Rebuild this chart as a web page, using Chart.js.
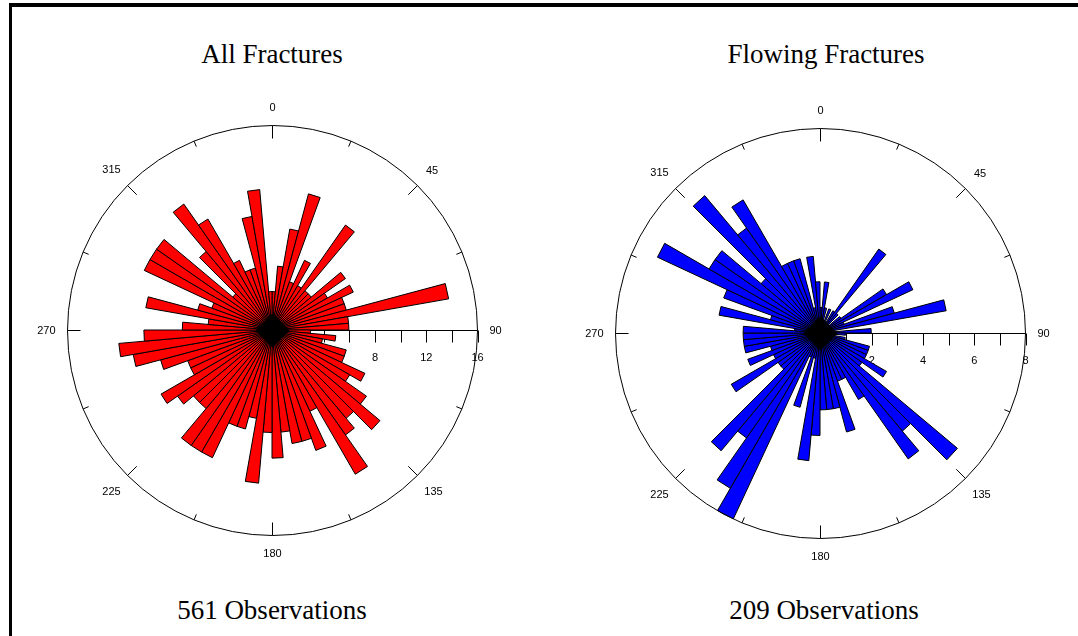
<!DOCTYPE html>
<html>
<head>
<meta charset="utf-8">
<title>Fracture Rose Diagrams</title>
<script src="https://cdn.jsdelivr.net/npm/chart.js@4.4.0/dist/chart.umd.min.js"></script>
<style>
    html, body { margin: 0; padding: 0; background: #fff; }
    body { width: 1078px; height: 636px; position: relative; overflow: hidden; }
    .frame {
        position: absolute; left: 9px; top: 3px; width: 1090px; height: 660px;
        border-top: 4px solid #000; border-left: 3px solid #000;
    }
    .caption {
        position: absolute; width: 400px; text-align: center;
        font-family: 'Liberation Serif', 'DejaVu Serif', serif;
        font-size: 27px; line-height: 27px; color: #000;
    }
    .rose { position: absolute; width: 500px; height: 460px; }
</style>
</head>
<body>
<div class="frame"></div>
<div class="caption" style="left:72px; top:41px;">All Fractures</div>
<div class="caption" style="left:626px; top:41px;">Flowing Fractures</div>
<canvas id="all-rose" class="rose" width="500" height="460" style="left:22px; top:100px;"></canvas>
<canvas id="flowing-rose" class="rose" width="500" height="460" style="left:570px; top:103px;"></canvas>
<div class="caption" style="left:72px; top:597px;">561 Observations</div>
<div class="caption" style="left:624px; top:597px;">209 Observations</div>

<script>
// 5 degree bins, clockwise from north
const binLabels = [
    '0', '5', '10', '15', '20', '25', '30', '35', '40', '45', '50', '55', '60', '65', '70', '75', '80', '85',
    '90', '95', '100', '105', '110', '115', '120', '125', '130', '135', '140', '145', '150', '155', '160', '165', '170', '175',
    '180', '185', '190', '195', '200', '205', '210', '215', '220', '225', '230', '235', '240', '245', '250', '255', '260', '265',
    '270', '275', '280', '285', '290', '295', '300', '305', '310', '315', '320', '325', '330', '335', '340', '345', '350', '355'
];

// Counts per bin, all fractures (561 obs)
const allCounts = [
    3, 5, 8, 11, 4, 6, 4, 10, 4, 4, 7, 5, 7, 6, 6, 14, 6, 6,
    3, 5, 4, 6, 6, 8, 7, 9, 11, 9, 10, 13, 7, 10, 9, 9, 8, 10,
    8, 12, 7, 8, 8, 11, 11, 11, 8, 8, 9, 10, 7, 7, 9, 11, 12, 10,
    7, 5, 10, 6, 5, 11, 11, 11, 4, 8, 12, 10, 6, 5, 5, 9, 11, 3
];

// Counts per bin, flowing fractures (209 obs)
const flowingCounts = [
    1, 2, 1, 0, 1, 0, 1, 4, 1, 0, 1, 3, 4, 1, 3, 5, 0, 2,
    1, 0, 1, 2, 2, 2, 3, 2, 7, 5, 6, 3, 2, 2, 4, 3, 3, 3,
    4, 5, 1, 3, 1, 8, 7, 5, 6, 2, 2, 4, 2, 3, 2, 3, 3, 3,
    3, 1, 4, 2, 4, 7, 5, 5, 3, 7, 5, 6, 3, 3, 3, 1, 3, 2
];

// Compass decoration
const compassTickDegrees = [0, 22.5, 45, 67.5, 90, 112.5, 135, 157.5, 180, 202.5, 225, 247.5, 270, 292.5, 315, 337.5];
const compassLabels = ['0', '45', '90', '135', '180', '225', '270', '315'];

// Radial axis (drawn along 90 degrees)
const allAxisTicks = [2, 4, 6, 8, 10, 12, 14, 16];
const allAxisLabels = [4, 8, 12, 16];
const flowingAxisTicks = [1, 2, 3, 4, 5, 6, 7, 8];
const flowingAxisLabels = [2, 4, 6, 8];

document.addEventListener('DOMContentLoaded', () => {

    const labelFont = '11px "Liberation Sans", Arial, sans-serif';

    /**
     * Draws the outer ring, compass ticks/labels and the radial scale
     * before the bars so the bars sit on top (as in the original).
     */
    const compassPlugin = {
        id: 'compass',
        beforeDatasetsDraw(chart, args, opts) {
            const scale = chart.scales.r;
            const ctx = chart.ctx;
            const cx = scale.xCenter + 0.5;
            const cy = scale.yCenter + 0.5;
            const outer = scale.getDistanceFromCenterForValue(scale.max);

            ctx.save();
            ctx.strokeStyle = '#000';
            ctx.fillStyle = '#000';
            ctx.lineWidth = 1;

            // outer ring
            ctx.beginPath();
            ctx.arc(cx, cy, outer, 0, Math.PI * 2);
            ctx.stroke();

            // compass ticks, longer on the 45s
            compassTickDegrees.forEach(deg => {
                const len = deg % 45 === 0 ? 13 : 6;
                const a = deg * Math.PI / 180;
                const sx = Math.sin(a);
                const sy = -Math.cos(a);
                ctx.beginPath();
                ctx.moveTo(cx + sx * outer, cy + sy * outer);
                ctx.lineTo(cx + sx * (outer - len), cy + sy * (outer - len));
                ctx.stroke();
            });

            // compass labels
            ctx.font = labelFont;
            ctx.textAlign = 'center';
            ctx.textBaseline = 'middle';
            compassLabels.forEach(text => {
                const a = parseFloat(text) * Math.PI / 180;
                const sx = Math.sin(a);
                const sy = -Math.cos(a);
                const w = ctx.measureText(text).width;
                const d = outer + 12 + Math.abs(sx) * w / 2 + Math.abs(sy) * 6;
                ctx.fillText(text, cx + sx * d, cy + sy * d);
            });

            // radial scale along 90 degrees
            ctx.beginPath();
            ctx.moveTo(cx, cy);
            ctx.lineTo(cx + outer, cy);
            ctx.stroke();

            opts.ticks.forEach(v => {
                const x = Math.round(cx + scale.getDistanceFromCenterForValue(v)) + 0.5;
                ctx.beginPath();
                ctx.moveTo(x, cy);
                ctx.lineTo(x, cy + 12);
                ctx.stroke();
            });

            opts.labels.forEach(v => {
                const x = cx + scale.getDistanceFromCenterForValue(v);
                ctx.fillText(String(v), x, cy + 27);
            });

            ctx.restore();
        },

        // the original's outlines merge into a solid black diamond at the hub
        afterDatasetsDraw(chart, args, opts) {
            const scale = chart.scales.r;
            const ctx = chart.ctx;
            const cx = scale.xCenter + 0.5;
            const cy = scale.yCenter + 0.5;
            const h = opts.hub;

            ctx.save();
            ctx.fillStyle = '#000';
            ctx.beginPath();
            ctx.moveTo(cx, cy - h);
            ctx.lineTo(cx + h, cy);
            ctx.lineTo(cx, cy + h);
            ctx.lineTo(cx - h, cy);
            ctx.closePath();
            ctx.fill();
            ctx.restore();
        }
    };

    /**
     * Renders one rose diagram as a polar area chart.
     */
    function renderRose(canvasId, counts, color, maxValue, axisTicks, axisLabels) {
        const ctx = document.getElementById(canvasId);
        if (!ctx) return null;

        return new Chart(ctx, {
            type: 'polarArea',
            data: {
                labels: binLabels,
                datasets: [{
                    data: counts,
                    backgroundColor: color,
                    borderColor: '#000',
                    borderWidth: 1,
                    circular: false
                }]
            },
            options: {
                responsive: false,
                animation: false,
                events: [],
                layout: { padding: { left: 45, right: 45, top: 25, bottom: 25 } },
                scales: {
                    r: {
                        min: 0,
                        max: maxValue,
                        startAngle: 0,
                        ticks: { display: false },
                        grid: { display: false },
                        angleLines: { display: false },
                        pointLabels: { display: false }
                    }
                },
                plugins: {
                    legend: { display: false },
                    tooltip: { enabled: false },
                    compass: { ticks: axisTicks, labels: axisLabels, hub: 17 }
                }
            },
            plugins: [compassPlugin]
        });
    }

    renderRose('all-rose', allCounts, '#ff0000', 16, allAxisTicks, allAxisLabels);
    renderRose('flowing-rose', flowingCounts, '#0000ff', 8, flowingAxisTicks, flowingAxisLabels);
});
</script>
</body>
</html>
